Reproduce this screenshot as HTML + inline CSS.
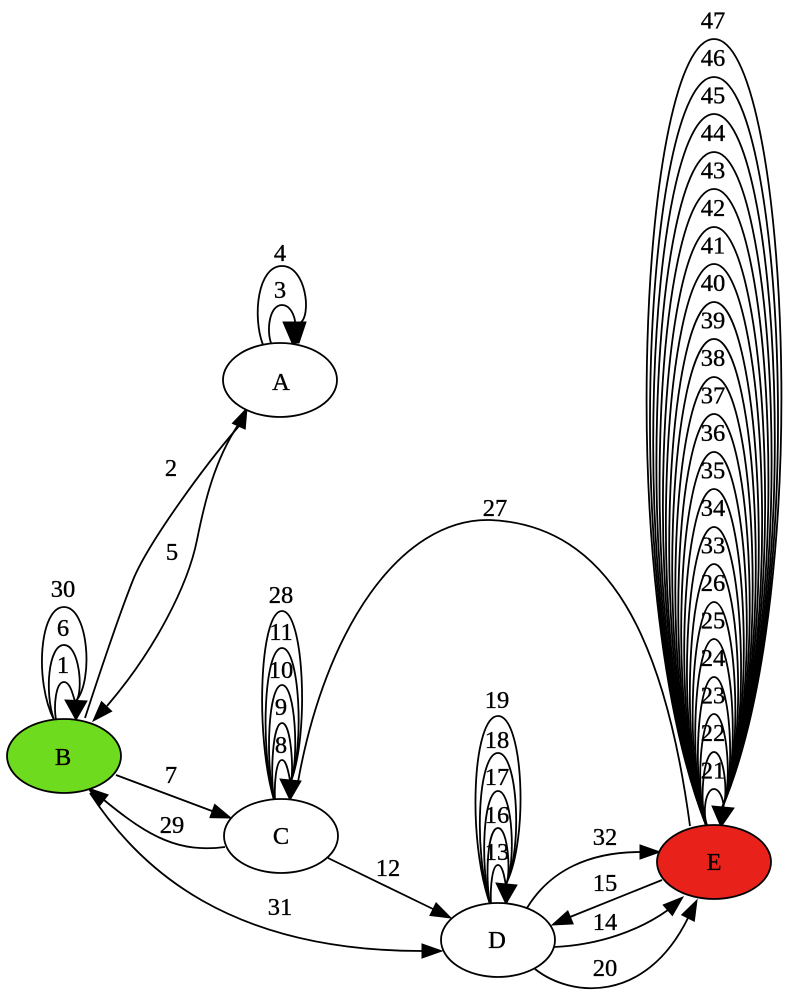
<!DOCTYPE html>
<html><head><meta charset="utf-8"><style>
html,body{margin:0;padding:0;background:#fff;}
svg{display:block;}
text{font-family:"Liberation Serif",serif;font-size:24.5px;text-anchor:middle;fill:#000;stroke:#000;stroke-width:0.35;}
</style></head><body>
<svg width="789" height="995" viewBox="0 0 789 995" xmlns="http://www.w3.org/2000/svg">
<rect width="789" height="995" fill="#fff"/>
<g fill="none" stroke="#000" stroke-width="1.8">
<!-- E loops -->
<path d="M706,825 C611.7,587 641.4,39 714,39 C786.6,39 816.3,587 722,808"/>
<path d="M706,825 C617,598.5 645.1,77 714,77 C782.9,77 811,598.5 722,808"/>
<path d="M706,825 C621.9,609.6 648.7,114 714,114 C779.3,114 806.1,609.6 722,808"/>
<path d="M706,825 C626.9,621 652.2,152 714,152 C775.8,152 801.1,621 722,808"/>
<path d="M706,825 C631.8,632 655.7,189 714,189 C772.3,189 796.2,632 722,808"/>
<path d="M706,825 C637,643.5 659.3,227 714,227 C768.7,227 791,643.5 722,808"/>
<path d="M706,825 C641.6,654.6 662.6,264 714,264 C765.4,264 786.4,654.6 722,808"/>
<path d="M706,825 C646.7,666 666.3,302 714,302 C761.7,302 781.3,666 722,808"/>
<path d="M706,825 C651.4,677 669.6,339 714,339 C758.4,339 776.6,677 722,808"/>
<path d="M706,825 C656.2,688.5 673,377 714,377 C755,377 771.8,688.5 722,808"/>
<path d="M706,825 C660.8,699.6 676.3,414 714,414 C751.7,414 767.2,699.6 722,808"/>
<path d="M706,825 C665.3,711 679.5,452 714,452 C748.5,452 762.7,711 722,808"/>
<path d="M706,825 C670,722 682.8,489 714,489 C745.2,489 758,722 722,808"/>
<path d="M706,825 C674.3,733.5 685.8,527 714,527 C742.2,527 753.7,733.5 722,808"/>
<path d="M706,825 C678.8,744.6 689,564 714,564 C739,564 749.2,744.6 722,808"/>
<path d="M706,825 C683.2,756 692.1,602 714,602 C735.9,602 744.8,756 722,808"/>
<path d="M706,825 C687.2,767 695,639 714,639 C733,639 740.8,767 722,808"/>
<path d="M706,825 C691.4,778.5 697.9,677 714,677 C730.1,677 736.6,778.5 722,808"/>
<path d="M706,825 C695.1,789.6 700.6,714 714,714 C727.4,714 732.9,789.6 722,808"/>
<path d="M706,825 C699,801 703.3,752 714,752 C724.7,752 729,801 722,808"/>
<path d="M707,825 C702.2,812 705.6,789 714,789 C722.4,789 725.8,812 722,808"/>
<!-- C loops -->
<path d="M274,800 C254.7,734 260,611 282,611 C304,611 309.3,734 291,781"/>
<path d="M274,800 C259.9,747 264.1,648 282,648 C299.9,648 304.1,747 291,781"/>
<path d="M274,800 C265.1,760 268.3,685 282,685 C295.7,685 298.9,760 291,781"/>
<path d="M274,800 C270.3,773 272.5,723 282,723 C291.5,723 293.7,773 291,781"/>
<path d="M275,800 C274.2,786 275.7,760 282,760 C288.3,760 289.8,786 291,781"/>
<!-- D loops -->
<path d="M490,904 C466.8,838 472.8,716 498,716 C523.2,716 529.2,838 506,884"/>
<path d="M490,904 C473.3,850 478,753 498,753 C518,753 522.7,850 506,884"/>
<path d="M490,904 C479.8,864 483.3,791 498,791 C512.7,791 516.2,864 506,884"/>
<path d="M490,904 C485,877 487.5,828 498,828 C508.5,828 511,877 506,884"/>
<path d="M491,904 C490.2,890 491.7,865 498,865 C504.3,865 505.8,890 506,884"/>
<!-- B loops -->
<path d="M54,720 C34.1,680 39.8,607 64,607 C88.2,607 93.9,680 76,701"/>
<path d="M54,720 C44.5,693 48.2,645 64,645 C79.8,645 83.5,693 76,701"/>
<path d="M56,720 C53.6,706 55.6,682 64,682 C72.4,682 74.4,706 76,701"/>
<!-- A loops -->
<path d="M263,345 C252.1,316 257.8,266 282,266 C306.2,266 311.9,316 300,323"/>
<path d="M271,343 C266.4,330 269.4,305 282,305 C294.6,305 297.6,330 293,323"/>
<!-- edge 2 B->A -->
<path d="M85,718 C100,672 118,618 133,580 C148,543 205,465 239,426"/>
<!-- edge 5 A->B -->
<path d="M238,425 C215,460 205,500 197,540 C188,585 155,650 107,706"/>
<!-- edge 7 B->C -->
<path d="M116,775 L212,811"/>
<!-- edge 29 C->B -->
<path d="M225,847 C180,853 150,838 104,800"/>
<!-- edge 31 B->D -->
<path d="M90,793 C140,870 230,951 422,951"/>
<!-- edge 12 C->D -->
<path d="M328,858 L433,909"/>
<!-- edge 27 E->C -->
<path d="M690,826 C665,640 610,525 490,520 C400,518 325,630 298,782"/>
<!-- edge 32 D->E -->
<path d="M527,908 C550,870 590,852 640,852"/>
<!-- edge 15 E->D -->
<path d="M662,880 L570,917"/>
<!-- edge 14 D->E -->
<path d="M554,947 C600,945 640,930 668,910"/>
<!-- edge 20 D->E -->
<path d="M535,969 C570,997 645,1005 688,918"/>
</g>
<g fill="#000" stroke="#000" stroke-width="1">
<polygon points="712,806 734,808 721,827"/>
<polygon points="280,779 301,781 290,800"/>
<polygon points="496,883 517,885 506,904"/>
<polygon points="65,700 87,701 76,720"/>
<polygon points="283,322 306,322 299,343 292,343"/>
<polygon points="247,408 245.2,429.1 232.4,423.3"/>
<polygon points="93,721 111.7,711.2 101.5,701.6"/>
<polygon points="231,818 209.9,817.6 214.7,804.4"/>
<polygon points="88,788 108.1,794.9 99.5,805.9"/>
<polygon points="442,951 422,944 422,958"/>
<polygon points="451,918 429.9,915.5 436.1,902.9"/>
<polygon points="660,852 640,845 640,859"/>
<polygon points="552,925 573.2,923.9 567.8,910.9"/>
<polygon points="683,897 672.4,915.5 663.2,904.9"/>
<polygon points="697,900 694.3,921.2 681.7,914.9"/>
</g>
<g stroke="#000" stroke-width="1.8">
<ellipse cx="280" cy="380" rx="57" ry="37" fill="#fff"/>
<ellipse cx="64" cy="756" rx="57" ry="37" fill="#6fdb1f"/>
<ellipse cx="281" cy="836" rx="57" ry="37" fill="#fff"/>
<ellipse cx="498" cy="940" rx="57" ry="37" fill="#fff"/>
<ellipse cx="714" cy="862" rx="57" ry="37" fill="#e8221b"/>
</g>
<g>
<text x="281" y="390">A</text>
<text x="63" y="765">B</text>
<text x="281" y="844">C</text>
<text x="497" y="948">D</text>
<text x="714" y="870">E</text>
<!-- E loop labels -->
<text x="713" y="28.5">47</text>
<text x="713" y="66">46</text>
<text x="713" y="103.5">45</text>
<text x="713" y="141">44</text>
<text x="713" y="178.5">43</text>
<text x="713" y="216">42</text>
<text x="713" y="253.5">41</text>
<text x="713" y="291">40</text>
<text x="713" y="328.5">39</text>
<text x="713" y="366">38</text>
<text x="713" y="403.5">37</text>
<text x="713" y="441">36</text>
<text x="713" y="478.5">35</text>
<text x="713" y="516">34</text>
<text x="713" y="553.5">33</text>
<text x="713" y="591">26</text>
<text x="713" y="628.5">25</text>
<text x="713" y="666">24</text>
<text x="713" y="703.5">23</text>
<text x="713" y="741">22</text>
<text x="713" y="778.5">21</text>
<!-- C loop labels -->
<text x="281" y="603">28</text>
<text x="281" y="640">11</text>
<text x="281" y="678">10</text>
<text x="281" y="715">9</text>
<text x="281" y="753">8</text>
<!-- D loop labels -->
<text x="497" y="708">19</text>
<text x="497" y="748">18</text>
<text x="497" y="785">17</text>
<text x="497" y="823">16</text>
<text x="497" y="860">13</text>
<!-- B loop labels -->
<text x="63" y="597">30</text>
<text x="63" y="636">6</text>
<text x="63" y="673">1</text>
<!-- A loop labels -->
<text x="280" y="261">4</text>
<text x="280" y="298">3</text>
<!-- edge labels -->
<text x="171" y="476">2</text>
<text x="172" y="560">5</text>
<text x="171" y="783">7</text>
<text x="172" y="833">29</text>
<text x="388" y="876">12</text>
<text x="280" y="915">31</text>
<text x="495" y="516">27</text>
<text x="605" y="845">32</text>
<text x="605" y="891">15</text>
<text x="605" y="930">14</text>
<text x="605" y="976">20</text>
</g>
</svg>
</body></html>
